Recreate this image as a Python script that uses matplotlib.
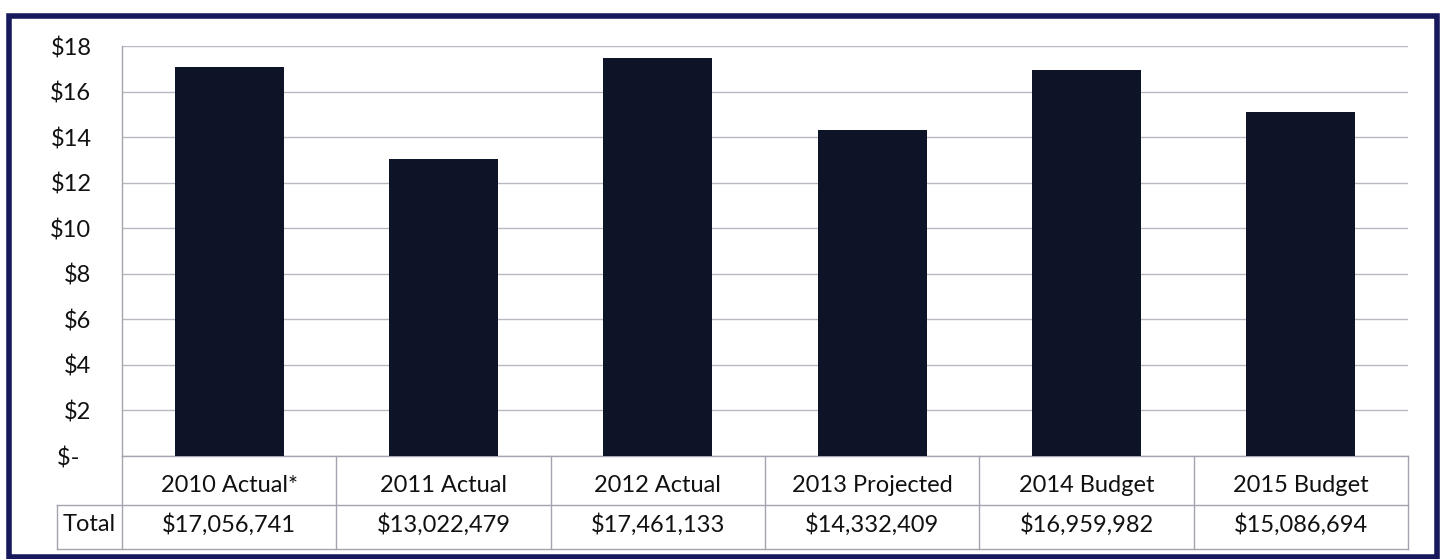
import matplotlib
matplotlib.use("Agg")
import matplotlib.pyplot as plt
from matplotlib.patches import Rectangle
import matplotlib.transforms as mtransforms

# ---- data ----
categories = ["2010 Actual*", "2011 Actual", "2012 Actual", "2013 Projected", "2014 Budget", "2015 Budget"]
totals = [17056741, 13022479, 17461133, 14332409, 16959982, 15086694]
total_labels = ["$17,056,741", "$13,022,479", "$17,461,133", "$14,332,409", "$16,959,982", "$15,086,694"]
row_label = "Total"
yticks = [0, 2, 4, 6, 8, 10, 12, 14, 16, 18]
ytick_labels = ["$-  ", "$2", "$4", "$6", "$8", "$10", "$12", "$14", "$16", "$18"]

values_m = [v / 1e6 for v in totals]

plt.rcParams['font.family'] = ['Lato', 'DejaVu Sans']

W, H = 1443, 559
fig = plt.figure(figsize=(W / 100, H / 100), dpi=100)
fig.patch.set_facecolor("white")

ax_left, ax_right = 122 / W, 1408 / W
ax_top, ax_bot = (H - 46) / H, (H - 456) / H
ax = fig.add_axes([ax_left, ax_bot, ax_right - ax_left, ax_top - ax_bot])

bar_color = "#0e1428"
grid_color = "#b9b9c2"
line_color = "#a4a4b0"
text_color = "#111111"
fs = 17

x = list(range(len(categories)))
ax.bar(x, values_m, width=0.51, color=bar_color, zorder=3)
ax.set_xlim(-0.5, len(categories) - 0.5)
ax.set_ylim(0, 18)
ax.set_yticks(yticks)
ax.set_yticklabels(ytick_labels, fontsize=fs, color=text_color)
ax.tick_params(axis="y", length=0, pad=22)
ax.set_xticks([])
for s in ["top", "right", "bottom"]:
    ax.spines[s].set_visible(False)
ax.spines["left"].set_color(line_color)
ax.spines["left"].set_linewidth(1)
ax.yaxis.grid(True, color=grid_color, linewidth=1, zorder=0)
ax.set_axisbelow(True)

# ---- data table below the axes ----
ax_h_px = 456 - 46
r1 = -49 / ax_h_px   # bottom of header row (axes fraction)
r2 = -93 / ax_h_px   # bottom of table
trans = mtransforms.blended_transform_factory(ax.transData, ax.transAxes)
lw = 1
n = len(categories)
label_left = -0.5 - (122 - 57) / (1408 - 122) * n
ax.plot([-0.5, n - 0.5], [0, 0], transform=trans, color=line_color, lw=lw, clip_on=False)
ax.plot([label_left, n - 0.5], [r1, r1], transform=trans, color=line_color, lw=lw, clip_on=False)
ax.plot([label_left, n - 0.5], [r2, r2], transform=trans, color=line_color, lw=lw, clip_on=False)
for i in range(n + 1):
    ax.plot([i - 0.5, i - 0.5], [0, r2], transform=trans, color=line_color, lw=lw, clip_on=False)
ax.plot([label_left, label_left], [r1, r2], transform=trans, color=line_color, lw=lw, clip_on=False)

for i, (c, t) in enumerate(zip(categories, total_labels)):
    ax.text(i, (0 + r1) / 2 - 0.012, c, transform=trans, ha="center", va="center",
            fontsize=fs, color=text_color, clip_on=False)
    ax.text(i, (r1 + r2) / 2 + 0.005, t, transform=trans, ha="center", va="center",
            fontsize=fs, color=text_color, clip_on=False)
ax.text((label_left - 0.5) / 2, (r1 + r2) / 2 + 0.005, row_label, transform=trans,
        ha="center", va="center", fontsize=fs, color=text_color, clip_on=False)

# ---- outer frame ----
frame = Rectangle((9 / W, 2 / H), (1437 - 9) / W, (H - 16 - 2) / H, transform=fig.transFigure,
                  fill=False, edgecolor="#17195c", linewidth=4, zorder=10)
fig.patches.append(frame)

fig.savefig("out.png", dpi=100, facecolor="white")
